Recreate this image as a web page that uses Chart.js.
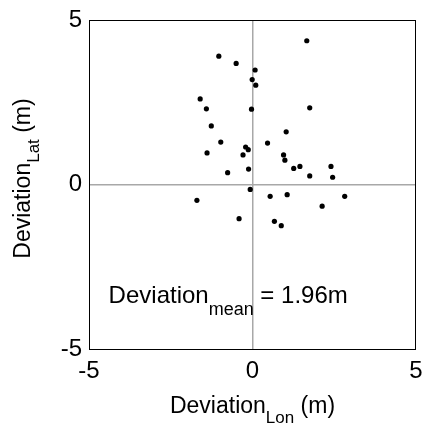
<!DOCTYPE html>
<html>
<head>
<meta charset="utf-8">
<script src="https://cdn.jsdelivr.net/npm/chart.js@4/dist/chart.umd.min.js"></script>
<style>
  html, body { margin: 0; padding: 0; background: #fff; }
  #wrap { width: 426px; height: 429px; }
</style>
</head>
<body>
<div id="wrap"><canvas id="chart" width="426" height="429"></canvas></div>
<script>
// deviation of each fix, metres
const lonDev = [1.66, -1.03, -0.50, 0.08, -0.01, 0.10, -1.60, -1.41, -0.03, 1.75,
                -1.26, 1.03, -0.97, 0.46, -0.21, -0.13, -1.39, -0.29, 0.95, 0.99,
                1.26, 1.45, 2.40, -0.76, -0.12, 1.75, 2.45, -0.07, -1.70, 0.54,
                1.06, 2.82, 2.13, -0.41, 0.67, 0.88];
const latDev = [4.37, 3.90, 3.68, 3.48, 3.19, 3.02, 2.60, 2.30, 2.29, 2.33,
                1.78, 1.60, 1.29, 1.26, 1.14, 1.06, 0.96, 0.90, 0.90, 0.74,
                0.49, 0.55, 0.55, 0.36, 0.47, 0.26, 0.22, -0.15, -0.48, -0.36,
                -0.31, -0.36, -0.66, -1.04, -1.12, -1.25];
const axisTicks = [-5, 0, 5];
const meanLabel = ['Deviation', 'mean', ' = 1.96m'];
const xTitle = ['Deviation', 'Lon', ' (m)'];
const yTitle = ['Deviation', 'Lat', ' (m)'];

const FONT = '"Liberation Sans", Arial, sans-serif';

// text with a subscript part, drawn at a baseline
function subText(ctx, x, y, parts, big, small, drop, align) {
    ctx.font = big + 'px ' + FONT;
    const w1 = ctx.measureText(parts[0]).width;
    const w3 = ctx.measureText(parts[2]).width;
    ctx.font = small + 'px ' + FONT;
    const w2 = ctx.measureText(parts[1]).width;
    let x0 = align === 'center' ? x - (w1 + w2 + w3) / 2 : x;
    ctx.textAlign = 'left';
    ctx.textBaseline = 'alphabetic';
    ctx.fillStyle = '#000';
    ctx.font = big + 'px ' + FONT;
    ctx.fillText(parts[0], x0, y);
    ctx.font = small + 'px ' + FONT;
    ctx.fillText(parts[1], x0 + w1, y + drop);
    ctx.font = big + 'px ' + FONT;
    ctx.fillText(parts[2], x0 + w1 + w2, y);
}

const decor = {
    id: 'decor',
    afterDraw(chart) {
        const { ctx, chartArea: a, scales } = chart;
        ctx.save();
        ctx.strokeStyle = '#000';
        ctx.lineWidth = 1;
        ctx.strokeRect(a.left + 0.5, a.top + 0.5, a.right - a.left - 1, a.bottom - a.top);

        subText(ctx, scales.x.getPixelForValue(-4.4), scales.y.getPixelForValue(-3.6),
            meanLabel, 24, 18, 12, 'left');

        subText(ctx, (a.left + a.right) / 2, 413, xTitle, 23, 17, 10, 'center');

        ctx.translate(30, (a.top + a.bottom) / 2 - 6);
        ctx.rotate(-Math.PI / 2);
        subText(ctx, 0, 0, yTitle, 23, 17, 9, 'center');
        ctx.restore();
    }
};

const gridOpts = {
    color: c => (c.tick && c.tick.value === 0) ? '#a8a8a8' : 'rgba(0,0,0,0)',
    lineWidth: 1.5,
    drawTicks: false
};

new Chart(document.getElementById('chart'), {
    type: 'scatter',
    data: {
        datasets: [{
            data: lonDev.map((v, i) => ({ x: v, y: latDev[i] })),
            backgroundColor: '#000',
            borderWidth: 0,
            pointRadius: 2.6,
            pointHoverRadius: 2.6
        }]
    },
    options: {
        responsive: false,
        animation: false,
        events: [],
        layout: { padding: { top: 20, right: 10, left: 0, bottom: 0 } },
        plugins: { legend: { display: false }, tooltip: { enabled: false } },
        scales: {
            x: {
                min: -5, max: 5,
                afterBuildTicks: s => { s.ticks = axisTicks.map(v => ({ value: v })); },
                afterFit: s => { s.height = 80; s.paddingLeft = 0; s.paddingRight = 0; },
                grid: gridOpts,
                border: { display: false },
                ticks: { color: '#000', padding: 8, maxRotation: 0, font: { family: FONT, size: 24 } }
            },
            y: {
                min: -5, max: 5,
                afterBuildTicks: s => { s.ticks = axisTicks.map(v => ({ value: v })); },
                afterFit: s => { s.width = 89; s.paddingTop = 0; s.paddingBottom = 0; },
                grid: gridOpts,
                border: { display: false },
                ticks: { color: '#000', padding: 7, font: { family: FONT, size: 24 } }
            }
        }
    },
    plugins: [decor]
});
</script>
</body>
</html>
